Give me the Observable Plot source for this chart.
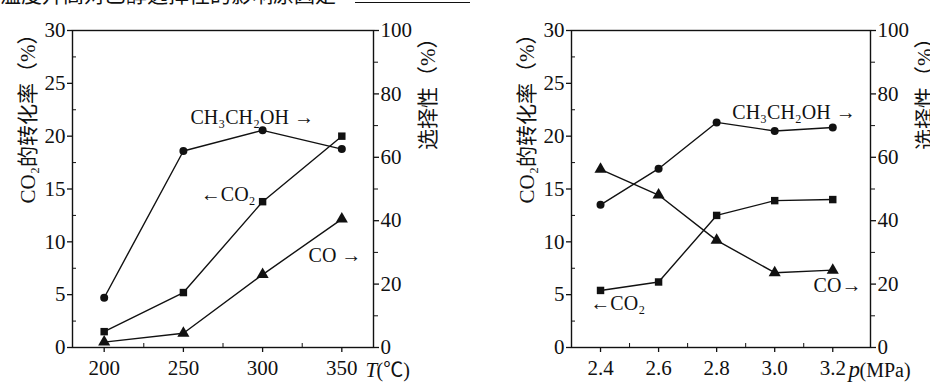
<!DOCTYPE html>
<html>
<head>
<meta charset="utf-8">
<script src="https://cdn.jsdelivr.net/npm/d3@7"></script>
<script src="https://cdn.jsdelivr.net/npm/@observablehq/plot@0.6"></script>
<style>
  html, body { margin: 0; padding: 0; background: #fff; }
  #wrap { position: relative; width: 930px; height: 386px; overflow: hidden; background: #fff; }
  .panel { position: absolute; top: 0; }
  .panel svg, .panel svg text, .panel svg g { font-family: "Liberation Serif", "Times New Roman", "Noto Sans CJK SC", serif !important; }
  #top { position: absolute; left: 0; top: -22px; font: 21px "Noto Sans CJK SC", sans-serif; color: #111; white-space: nowrap; }
  #top span { position: absolute; left: 355px; top: 24px; width: 115px; border-bottom: 1.5px solid #111; }
</style>
</head>
<body>
<div id="wrap">
  <div id="top">温度升高对乙醇选择性的影响原因是<span></span></div>
  <div id="p1" class="panel" style="left:0"></div>
  <div id="p2" class="panel" style="left:465px"></div>
</div>
<script>
// ---- data (left panel: temperature) ----
const temps = [200, 250, 300, 350];
const tEthanolSel = [15.7, 62.0, 68.5, 62.6];   // selectivity %, right axis
const tCO2Conv = [1.5, 5.2, 13.8, 20.0];        // conversion %, left axis
const tCOSel = [1.7, 4.5, 23.0, 40.5];          // selectivity %, right axis

// ---- data (right panel: pressure) ----
const pressures = [2.4, 2.6, 2.8, 3.0, 3.2];
const pEthanolSel = [45.0, 56.4, 71.0, 68.3, 69.4];
const pCO2Conv = [5.4, 6.2, 12.5, 13.9, 14.0];
const pCOSel = [56.2, 48.1, 33.8, 23.6, 24.4];

// ---- tick labels ----
const leftTicks = [0, 5, 10, 15, 20, 25, 30];
const leftMinor = [2.5, 7.5, 12.5, 17.5, 22.5, 27.5];
const rightTicks = [0, 20, 40, 60, 80, 100];
const rightMinor = [10, 30, 50, 70, 90];
const tempTicks = [200, 250, 300, 350];
const tempMinor = [225, 275, 325];
const presTicks = [2.4, 2.6, 2.8, 3.0, 3.2];
const presMinor = [2.5, 2.7, 2.9, 3.1];

const leftLabel = "CO₂的转化率（%）";
const rightLabel = "选择性（%）";

const K = 30 / 100; // right axis (0-100) onto left axis (0-30)
const FONT = "'Liberation Serif', 'Times New Roman', 'Noto Sans CJK SC', serif";

function panel({xs, eth, co2, co, xDomain, xTicks, xMinor, xFmt, marginLeft, marginRight, annotations, xLabelMarks}) {
  const rows = xs.map((x, i) => ({x, eth: eth[i], co2: co2[i], co: co[i]}));
  return Plot.plot({
    width: 465,
    height: 386,
    marginLeft, marginRight,
    marginTop: 30,
    marginBottom: 39,
    x: {domain: xDomain},
    y: {domain: [0, 30]},
    style: {fontFamily: FONT, fontSize: "21px", color: "#111", background: "transparent", overflow: "visible"},
    marks: [
      Plot.frame({stroke: "#111", strokeWidth: 1.4}),
      Plot.axisY(leftTicks, {anchor: "left", tickSize: 5, tickPadding: 2, label: null, strokeWidth: 1.3, fontSize: 21}),
      Plot.axisY(leftMinor, {anchor: "left", tickSize: -4, tickFormat: () => "", label: null}),
      Plot.axisY(rightTicks.map(v => v * K), {anchor: "right", tickSize: 5, tickPadding: 2, label: null, strokeWidth: 1.3, fontSize: 21, tickFormat: d => String(Math.round(d / K))}),
      Plot.axisY(rightMinor.map(v => v * K), {anchor: "right", tickSize: 4, tickFormat: () => "", label: null}),
      Plot.axisX(xTicks, {anchor: "bottom", tickSize: 5, tickPadding: 8, label: null, tickFormat: xFmt, strokeWidth: 1.3, fontSize: 21}),
      Plot.axisX(xMinor, {anchor: "bottom", tickSize: -4, tickFormat: () => "", label: null}),
      // series
      Plot.line(rows, {x: "x", y: d => d.eth * K, stroke: "#111", strokeWidth: 1.4}),
      Plot.dot(rows, {x: "x", y: d => d.eth * K, r: 4, fill: "#111", symbol: "circle"}),
      Plot.line(rows, {x: "x", y: "co2", stroke: "#111", strokeWidth: 1.4}),
      Plot.dot(rows, {x: "x", y: "co2", r: 4.2, fill: "#111", symbol: "square"}),
      Plot.line(rows, {x: "x", y: d => d.co * K, stroke: "#111", strokeWidth: 1.4}),
      Plot.dot(rows, {x: "x", y: d => d.co * K, r: 4.5, fill: "#111", symbol: "triangle"}),
      // annotations
      Plot.text(annotations, {x: "x", y: "y", text: "text", textAnchor: "start", fontSize: 20, fill: "#111"}),
      // axis titles
      Plot.text([leftLabel], {frameAnchor: "top-left", dx: -44, dy: -7, rotate: -90, textAnchor: "end", lineAnchor: "middle", fontSize: 21, fill: "#111"}),
      Plot.text([rightLabel], {frameAnchor: "top-right", dx: 55, dy: -3, rotate: -90, textAnchor: "end", lineAnchor: "middle", fontSize: 21, fill: "#111"}),
      ...xLabelMarks
    ]
  });
}

const p1 = panel({
  xs: temps, eth: tEthanolSel, co2: tCO2Conv, co: tCOSel,
  xDomain: [180, 370], xTicks: tempTicks, xMinor: tempMinor, xFmt: d => String(d),
  marginLeft: 72, marginRight: 92,
  annotations: [
    {x: 254.5, y: 21.8, text: "CH₃CH₂OH →"},
    {x: 261, y: 14.5, text: "←CO₂"},
    {x: 329, y: 8.7, text: "CO →"}
  ],
  xLabelMarks: [
    Plot.text(["T"], {frameAnchor: "bottom-right", dx: -8, dy: 29, textAnchor: "start", fontStyle: "italic", fontSize: 21, fill: "#111"}),
    Plot.text(["(℃)"], {frameAnchor: "bottom-right", dx: 3, dy: 29, textAnchor: "start", fontSize: 20, fill: "#111"})
  ]
});

const p2 = panel({
  xs: pressures, eth: pEthanolSel, co2: pCO2Conv, co: pCOSel,
  xDomain: [2.3, 3.33], xTicks: presTicks, xMinor: presMinor, xFmt: d3.format(".1f"),
  marginLeft: 106, marginRight: 60,
  annotations: [
    {x: 2.854, y: 22.2, text: "CH₃CH₂OH →"},
    {x: 2.365, y: 4.2, text: "←CO₂"},
    {x: 3.134, y: 5.9, text: "CO→"}
  ],
  xLabelMarks: [
    Plot.text(["p"], {frameAnchor: "bottom-right", dx: -22, dy: 29, textAnchor: "start", fontStyle: "italic", fontSize: 23, fill: "#111"}),
    Plot.text(["(MPa)"], {frameAnchor: "bottom-right", dx: -11, dy: 29, textAnchor: "start", fontSize: 20, fill: "#111"})
  ]
});

document.getElementById("p1").appendChild(p1);
document.getElementById("p2").appendChild(p2);
</script>
</body>
</html>
